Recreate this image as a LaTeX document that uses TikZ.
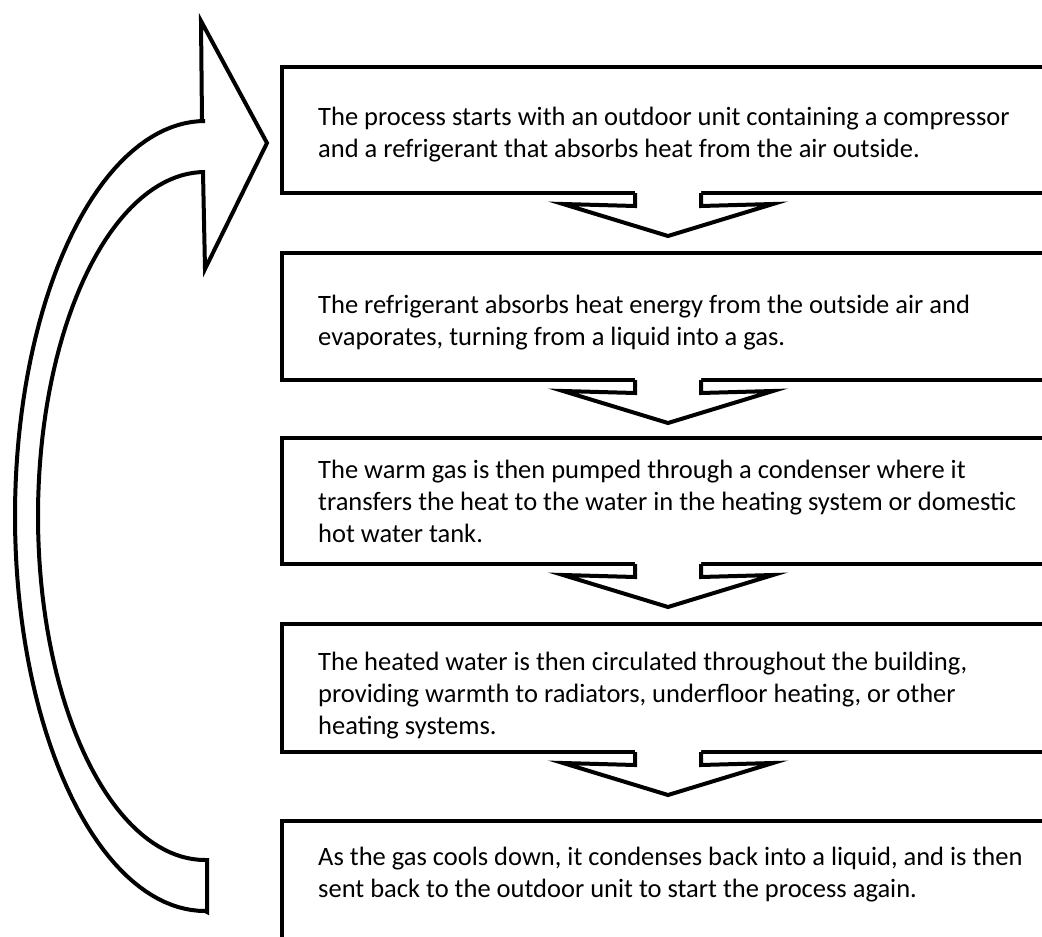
\documentclass[tikz,border=0pt]{standalone}
\usepackage{fontspec}
\setmainfont{Carlito}
\newcommand{\boxtext}[1]{\parbox[t]{800pt}{\fontsize{26.5pt}{32pt}\selectfont\raggedright #1}}
\tikzset{
  box/.style={draw=black, line width=4pt, rectangle, anchor=north west, minimum width=772pt, inner sep=0pt, outer sep=0pt},
  txt/.style={anchor=base west, inner sep=0pt},
  downarr/.pic={
    \fill[white] (-33,-5) -- (-33,13) -- (-105,11) -- (0,43) -- (105,11) -- (33,13) -- (33,-5) -- cycle;
    \draw[line width=4pt] (-33,0) -- (-33,13) -- (-105,11) -- (0,43) -- (105,11) -- (33,13) -- (33,0);
  }
}
\begin{document}
\begin{tikzpicture}[x=1pt,y=-1pt]
\clip (0,0) rectangle (1042,937);
\fill[white] (0,0) rectangle (1042,937);
% boxes
\node[box, minimum height=126pt] (b1) at (282,67) {};
\node[box, minimum height=127pt] (b2) at (282,253) {};
\node[box, minimum height=126pt] (b3) at (282,438) {};
\node[box, minimum height=128pt] (b4) at (282,624) {};
\node[box, minimum height=200pt] (b5) at (282,821) {};
% texts
\node[txt] (t1) at (318,125) {\boxtext{The process starts with an outdoor unit containing a compressor\\and a refrigerant that absorbs heat from the air outside.}};
\node[txt] (t2) at (318,313) {\boxtext{The refrigerant absorbs heat energy from the outside air and\\evaporates, turning from a liquid into a gas.}};
\node[txt] (t3) at (318,478) {\boxtext{The warm gas is then pumped through a condenser where it\\transfers the heat to the water in the heating system or domestic\\hot water tank.}};
\node[txt] (t4) at (318,670) {\boxtext{The heated water is then circulated throughout the building,\\providing warmth to radiators, underfloor heating, or other\\heating systems.}};
\node[txt] (t5) at (318,865) {\boxtext{As the gas cools down, it condenses back into a liquid, and is then\\sent back to the outdoor unit to start the process again.}};
% down arrows
\pic at (b1.south) {downarr};
\pic at (b2.south) {downarr};
\pic at (b3.south) {downarr};
\pic at (b4.south) {downarr};
% curved return arrow
\draw[line width=4pt, fill=white] (207,912)
  -- plot[domain=0:180, samples=90] ({205-190*sin(\x)},{516+395*cos(\x)})
  -- (202,121) -- (201,21) -- (267,143) -- (205,269) -- (203,172)
  -- plot[domain=0:180, samples=90] ({205-167*sin(\x)},{516-344*cos(\x)})
  -- (207,860) -- cycle;
\end{tikzpicture}
\end{document}
